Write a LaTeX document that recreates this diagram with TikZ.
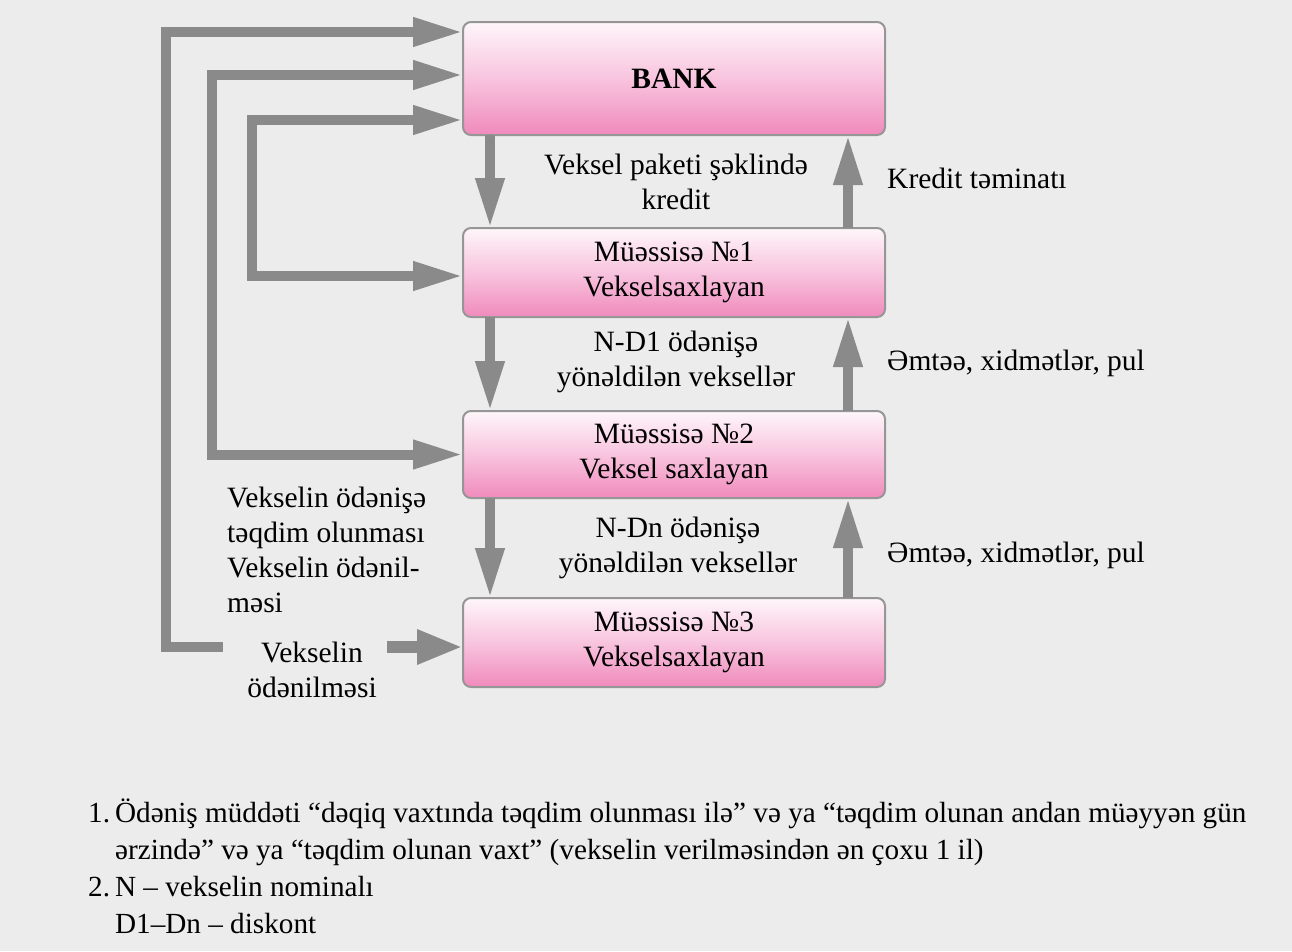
\documentclass[tikz,border=0pt]{standalone}
\usepackage{fontspec}
\setmainfont{Liberation Serif}
\usetikzlibrary{arrows.meta,calc}
\definecolor{bgc}{RGB}{236,236,236}
\definecolor{arrc}{RGB}{138,138,138}
\definecolor{brd}{RGB}{150,150,150}
\definecolor{pinkbot}{RGB}{240,138,188}
\definecolor{pinkmid}{RGB}{248,196,222}
\definecolor{pinktop}{RGB}{254,246,250}
\tikzset{
  box/.style={draw=brd, line width=2pt, rounded corners=8pt, top color=pinktop, bottom color=pinkbot, middle color=pinkmid,
    minimum width=422pt, inner sep=0pt, outer sep=0pt, align=center, font=\fontsize{29.5}{35}\selectfont},
  flow/.style={draw=arrc, line width=10pt, line join=miter},
  tip/.style={flow, -{Triangle[length=50pt,width=27pt]}},
  both/.style={flow, {Triangle[length=50pt,width=27pt]}-{Triangle[length=50pt,width=27pt]}},
  lbl/.style={font=\fontsize{29.5}{35}\selectfont, inner sep=0pt, text=black}
}
\begin{document}
\begin{tikzpicture}[x=1pt,y=-1pt]
\useasboundingbox (0,0) rectangle (1292,951);
\fill[bgc] (0,0) rectangle (1292,951);

\node[box, minimum height=113pt] (bank) at (674,78.5) {\textbf{BANK}};
\node[box, minimum height=89pt] (m1) at (674,272.5) {Müəssisə №1\\Vekselsaxlayan};
\node[box, minimum height=87pt] (m2) at (674,454.5) {Müəssisə №2\\Veksel saxlayan};
\node[box, minimum height=89pt] (m3) at (674,642.5) {Müəssisə №3\\Vekselsaxlayan};

% vertical arrows
\draw[tip] ([xshift=27pt]bank.south west) -- ([xshift=27pt]m1.north west);
\draw[tip] ([xshift=-37pt]m1.north east) -- ([xshift=-37pt]bank.south east);
\draw[tip] ([xshift=27pt]m1.south west) -- ([xshift=27pt]m2.north west);
\draw[tip] ([xshift=-37pt]m2.north east) -- ([xshift=-37pt]m1.south east);
\draw[tip] ([xshift=27pt]m2.south west) -- ([xshift=27pt]m3.north west);
\draw[tip] ([xshift=-37pt]m3.north east) -- ([xshift=-37pt]m2.south east);

% left loops
\coordinate (oa) at (223,647);
\coordinate (o1) at (166,647);
\coordinate (ot) at (166,32);
\draw[tip] (oa) -- (o1) -- (ot) -- (ot -| bank.west);

\coordinate (c2) at (212,454.5);
\coordinate (t2) at (212,75);
\draw[both] (c2 -| m2.west) -- (c2) -- (t2) -- (t2 -| bank.west);

\coordinate (c3) at (252,276);
\coordinate (t3) at (252,120);
\draw[both] (c3 -| m1.west) -- (c3) -- (t3) -- (t3 -| bank.west);

\coordinate (ob) at (387,647);
\draw[flow, line width=12pt, -{Triangle[length=46pt,width=32pt]}] (ob) -- (ob -| m3.west);

% labels
\node[lbl, align=center] (l1) at (676,182) {Veksel paketi şəklində\\kredit};
\node[lbl, anchor=west] (r1) at (887,178) {Kredit təminatı};
\node[lbl, align=center] (l2) at (676,362) {N-D1 ödənişə\\yönəldilən veksellər};
\node[lbl, anchor=west] (r2) at (887,363) {Əmtəə, xidmətlər, pul};
\node[lbl, align=center] (l3) at (678,548) {N-Dn ödənişə\\yönəldilən veksellər};
\node[lbl, anchor=west] (r3) at (887,555) {Əmtəə, xidmətlər, pul};
\node[lbl, align=left, anchor=west] (lv) at (227,550) {Vekselin ödənişə\\təqdim olunması\\Vekselin ödənil-\\məsi};
\node[lbl, align=center] (lo) at (312,670) {Vekselin\\ödənilməsi};

% footer
\node[lbl, anchor=north west] (foot) at (88,796) {\fontsize{29.2}{37}\selectfont
\begin{tabular}{@{}l@{\hspace{5pt}}l@{}}
1. & Ödəniş müddəti “dəqiq vaxtında təqdim olunması ilə” və ya “təqdim olunan andan müəyyən gün\\
   & ərzində” və ya “təqdim olunan vaxt” (vekselin verilməsindən ən çoxu 1 il)\\
2. & N – vekselin nominalı\\
   & D1–Dn – diskont
\end{tabular}};
\end{tikzpicture}
\end{document}
